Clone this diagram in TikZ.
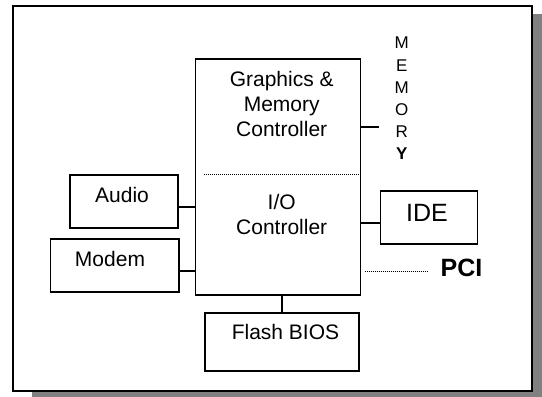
\documentclass[tikz,border=0pt]{standalone}
\usepackage{fontspec}
\setmainfont{Liberation Sans}
\begin{document}
\begin{tikzpicture}[x=1pt,y=-1pt,
  box/.style={draw=black,line width=1.6pt,fill=white,inner sep=0pt},
  lbl/.style={inner sep=0pt,align=center,font=\fontsize{21}{25}\selectfont},
  conn/.style={line width=1.6pt},
  dotln/.style={line width=1pt,dash pattern=on 1pt off 1pt}]
\useasboundingbox (0,0) rectangle (542,397);
% shadow and frame
\fill[black!50] (32,14) rectangle (542,397);
\draw[line width=2pt,fill=white] (13,6) rectangle (531.5,390.5);
% boxes
\node[box,minimum width=165pt,minimum height=235.5pt] (main) at (278,177) {};
\node[box,minimum width=108pt,minimum height=53pt] (audio) at (124,201.5) {};
\node[box,minimum width=128.5pt,minimum height=53pt] (modem) at (114.75,265.5) {};
\node[box,minimum width=97pt,minimum height=53pt] (ide) at (429,217.5) {};
\node[box,minimum width=154pt,minimum height=58pt] (bios) at (282,342) {};
% texts
\node[lbl] (gmc) at (281.7,104) {Graphics \&\\Memory\\Controller};
\node[lbl] (ioc) at (281.7,214.5) {I/O\\Controller};
\node[lbl] (audiot) at (122,195) {Audio};
\node[lbl] (modemt) at (110,259) {Modem};
\node[lbl,font=\fontsize{25}{30}\selectfont] (idet) at (427,213) {IDE};
\node[lbl] (biost) at (285.5,332) {Flash BIOS};
\node[inner sep=0pt,font=\fontsize{25}{30}\selectfont\bfseries] (pci) at (461.5,268) {PCI};
\node[inner sep=0pt,align=center,font=\fontsize{17}{22.2}\selectfont] (mem) at (401.7,98.5) {M\\E\\M\\O\\R\\\textbf{Y}};
% dotted separator
\coordinate (sepL) at (204,174.7);
\coordinate (sepR) at (362,174.7);
\draw[dotln] (sepL) -- (sepR);
% connectors
\draw[conn] (audio.east |- 0,207) -- (main.west |- 0,207);
\draw[conn] (modem.east |- 0,271) -- (main.west |- 0,271);
\draw[conn] (ide.west |- 0,223) -- (main.east |- 0,223);
\draw[conn] (main.south -| 282,0) -- (bios.north -| 282,0);
\coordinate (memend) at (379,126.7);
\draw[conn] (main.east |- memend) -- (memend);
\coordinate (pciL) at (364.7,271);
\coordinate (pciR) at (428,271);
\draw[dotln] (pciL) -- (pciR);
\end{tikzpicture}
\end{document}
